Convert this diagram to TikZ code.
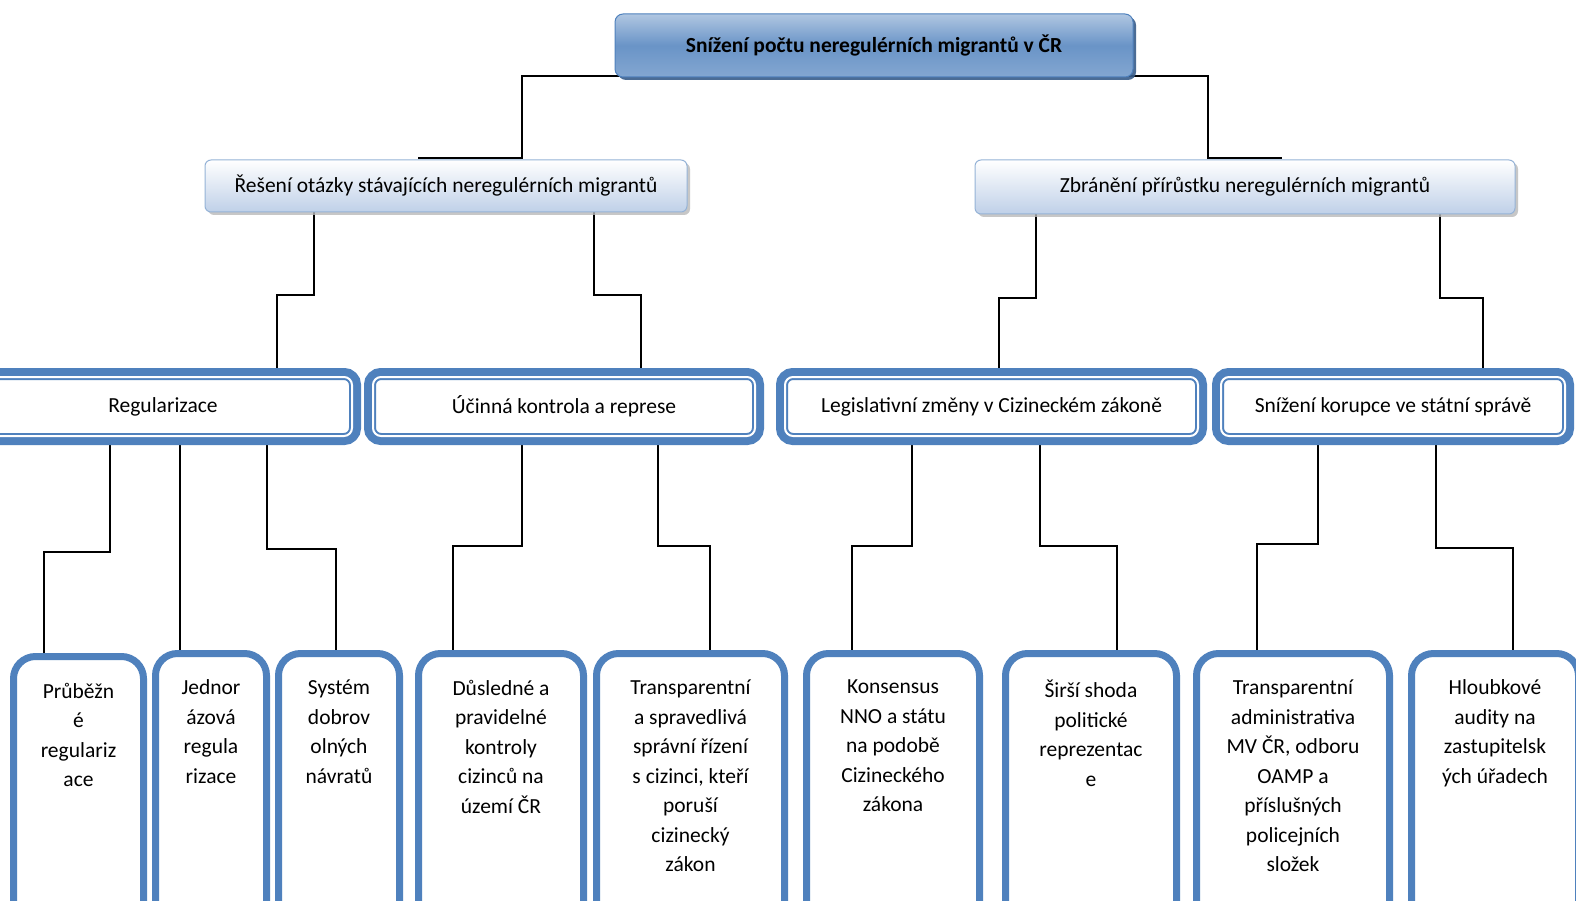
\documentclass[tikz,border=0pt]{standalone}
\usepackage{fontspec}
\setmainfont{Carlito}
\usetikzlibrary{positioning,shadows,backgrounds}
\definecolor{ofblue}{HTML}{4F81BD}
\definecolor{ofdark}{HTML}{385D8A}
\definecolor{oflight}{HTML}{95B3D7}
\definecolor{ofpale}{HTML}{BFD0E8}
\tikzset{
	txt/.style={font=\fontsize{21.5}{29.5}\selectfont, align=center},
	goalbox/.style={txt, font=\fontsize{21.5}{29.5}\selectfont\bfseries, draw=ofblue, line width=1pt, rounded corners=8pt,
		top color=ofblue!45, bottom color=ofblue!70, middle color=ofblue!85,
		drop shadow={shadow xshift=3pt, shadow yshift=-3pt, fill=ofdark, opacity=.9}},
	aimbox/.style={txt, draw=oflight, line width=1pt, rounded corners=6pt, top color=white, bottom color=ofpale,
		drop shadow={shadow xshift=3pt, shadow yshift=-3pt, fill=gray!55, opacity=.8}},
	measbox/.style={txt, draw=ofblue, line width=2pt, double=white, double distance=2pt, rounded corners=8pt,
		fill=white, minimum height=59pt, preaction={draw=ofblue, line width=18pt}},
	stepbox/.style={draw=ofblue, line width=7pt, rounded corners=22pt, fill=white, minimum height=283pt},
	steptxt/.style={txt, inner sep=0pt, outer sep=0pt, execute at begin node={\rule{0pt}{25pt}}},
	conn/.style={draw=black, line width=1.6pt}
}
\begin{document}
\begin{tikzpicture}[x=1pt, y=1pt]
	\useasboundingbox (0,0) rectangle (1576,-901);
	\clip (0,0) rectangle (1576,-901);
	\node[goalbox, minimum width=518pt, minimum height=63pt] (goal) at (874,-45.5) {Snížení počtu neregulérních migrantů v ČR};
	\node[aimbox, minimum width=482pt, minimum height=52pt] (resit) at (446,-186) {Řešení otázky stávajících neregulérních migrantů};
	\node[aimbox, minimum width=540pt, minimum height=54pt] (zbran) at (1245,-187) {Zbránění přírůstku neregulérních migrantů};
	\node[measbox, minimum width=378pt] (reg) at (163,-406.5) {Regularizace};
	\node[measbox, minimum width=382pt] (ucin) at (564,-406.5) {Účinná kontrola a represe};
	\node[measbox, minimum width=413pt] (legis) at (991.5,-406.5) {Legislativní změny v Cizineckém zákoně};
	\node[measbox, minimum width=344pt] (koru) at (1393,-406.5) {Snížení korupce ve státní správě};
	\node[stepbox, minimum width=130pt] (p1) at (78.5,-798) {};
	\node[stepbox, minimum width=111pt] (p2) at (211,-795) {};
	\node[stepbox, minimum width=121pt] (p3) at (339,-795) {};
	\node[stepbox, minimum width=165pt] (p4) at (501,-795) {};
	\node[stepbox, minimum width=188pt] (p5) at (690.5,-795) {};
	\node[stepbox, minimum width=173pt] (p6) at (893,-795) {};
	\node[stepbox, minimum width=171pt] (p7) at (1091,-795) {};
	\node[stepbox, minimum width=193pt] (p8) at (1293,-795) {};
	\node[stepbox, minimum width=167pt] (p9) at (1495,-795) {};
	\node[steptxt, below=30pt of p1.north] (t1) {Průběžn\\é\\regulariz\\ace};
	\node[steptxt, below=30pt of p2.north] (t2) {Jednor\\ázová\\regula\\rizace};
	\node[steptxt, below=30pt of p3.north] (t3) {Systém\\dobrov\\olných\\návratů};
	\node[steptxt, below=30pt of p4.north] (t4) {Důsledné a\\pravidelné\\kontroly\\cizinců na\\území ČR};
	\node[steptxt, below=30pt of p5.north] (t5) {Transparentní\\a spravedlivá\\správní řízení\\s cizinci, kteří\\poruší\\cizinecký\\zákon};
	\node[steptxt, below=30pt of p6.north] (t6) {Konsensus\\NNO a státu\\na podobě\\Cizineckého\\zákona};
	\node[steptxt, below=30pt of p7.north] (t7) {Širší shoda\\politické\\reprezentac\\e};
	\node[steptxt, below=30pt of p8.north] (t8) {Transparentní\\administrativa\\MV ČR, odboru\\OAMP a\\příslušných\\policejních\\složek};
	\node[steptxt, below=30pt of p9.north] (t9) {Hloubkové\\audity na\\zastupitelsk\\ých úřadech};
	\begin{pgfonlayer}{background}
		\fill[white] (0,0) rectangle (1576,-901);
		\draw[conn] (goal.south) ++(0,1.3) -| ([yshift=1.5pt]resit.north -| 522,0) -- ([yshift=1.5pt]resit.north -| 418,0);
		\draw[conn] (goal.south) ++(0,1.3) -| ([yshift=1.5pt]zbran.north -| 1208,0) -- ([yshift=1.5pt]zbran.north -| 1282,0);
		\draw[conn] (resit.south -| 314,0) |- (277,-295) -- (reg.north -| 277,0);
		\draw[conn] (resit.south -| 594,0) |- (641,-295) -- (ucin.north -| 641,0);
		\draw[conn] (zbran.south -| 1036,0) |- (999,-298) -- (legis.north -| 999,0);
		\draw[conn] (zbran.south -| 1440,0) |- (1483,-298) -- (koru.north -| 1483,0);
		\draw[conn] (reg.south -| 110,0) |- (44,-552) -- (p1.north -| 44,0);
		\draw[conn] (reg.south -| 180,0) -- (p2.north -| 180,0);
		\draw[conn] (reg.south -| 267,0) |- (336,-549) -- (p3.north -| 336,0);
		\draw[conn] (ucin.south -| 522,0) |- (453,-546) -- (p4.north -| 453,0);
		\draw[conn] (ucin.south -| 658,0) |- (710,-546) -- (p5.north -| 710,0);
		\draw[conn] (legis.south -| 912,0) |- (852,-546) -- (p6.north -| 852,0);
		\draw[conn] (legis.south -| 1040,0) |- (1117,-546) -- (p7.north -| 1117,0);
		\draw[conn] (koru.south -| 1318,0) |- (1257,-544) -- (p8.north -| 1257,0);
		\draw[conn] (koru.south -| 1436,0) |- (1513,-548) -- (p9.north -| 1513,0);
	\end{pgfonlayer}
\end{tikzpicture}
\end{document}
